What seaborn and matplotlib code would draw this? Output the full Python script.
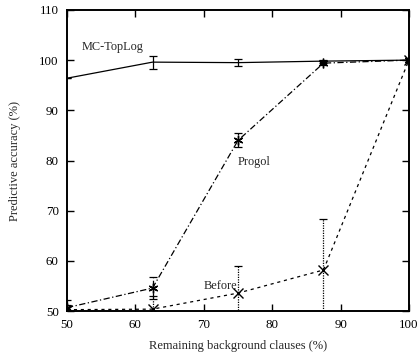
import pandas as pd
import matplotlib
matplotlib.use("Agg")
import matplotlib.pyplot as plt
import seaborn as sns

remaining = [50, 62.5, 75, 87.5, 100]

mc_toplog = [96.4, 99.6, 99.5, 99.8, 100]
mc_toplog_err = [0.0, 1.3, 0.7, 0.3, 0.0]

progol = [50.7, 54.6, 84.0, 99.4, 100]
progol_err = [1.6, 2.2, 1.4, 0.4, 0.0]

before = [50.3, 50.4, 53.6, 58.2, 100]
before_err = [1.0, 2.6, 5.4, 10.1, 0.0]

sns.set_theme(style="ticks")
plt.rcParams["font.family"] = ["Liberation Serif", "DejaVu Serif"]

fig = plt.figure(figsize=(4.19, 3.54), dpi=100)
ax = fig.add_axes([0.160, 0.121, 0.816, 0.851])

series = [
    ("MC-TopLog", mc_toplog, mc_toplog_err, "-", "None"),
    ("Progol", progol, progol_err, (0, (5, 2, 1, 2)), (6, 2, 0)),
    ("Before", before, before_err, (0, (2.5, 3)), "x"),
]

for name, vals, errs, ls, mk in series:
    df = pd.DataFrame({"x": remaining, "y": vals})
    sns.lineplot(data=df, x="x", y="y", ax=ax, color="black", linewidth=0.9,
                 linestyle=ls, marker=mk, markersize=7, markeredgewidth=1.0,
                 markeredgecolor="black")
    eb = ax.errorbar(remaining, vals, yerr=errs, fmt="none", ecolor="black",
                     elinewidth=0.9, capsize=3, capthick=0.9)
    for col in eb[2]:
        col.set_linestyle(ls if name != "Before" else (0, (1, 1)))

ax.text(56.6, 102.6, "MC-TopLog", fontsize=8.8, ha="center", va="center")
ax.text(77.4, 79.8, "Progol", fontsize=8.8, ha="center", va="center")
ax.text(72.5, 55.0, "Before", fontsize=8.8, ha="center", va="center")

ax.set_xlim(50, 100)
ax.set_ylim(50, 110)
ax.set_xticks([50, 60, 70, 80, 90, 100])
ax.set_yticks([50, 60, 70, 80, 90, 100, 110])
ax.set_xlabel("Remaining background clauses (%)", fontsize=9, labelpad=6)
ax.set_ylabel("Predictive accuracy (%)", fontsize=9, labelpad=13)
ax.tick_params(direction="in", length=5, width=1, top=True, right=True,
               labelsize=9.3, pad=6, colors="black")
for sp in ax.spines.values():
    sp.set_linewidth(1.4)
    sp.set_color("black")

fig.savefig("out.png", dpi=100)
